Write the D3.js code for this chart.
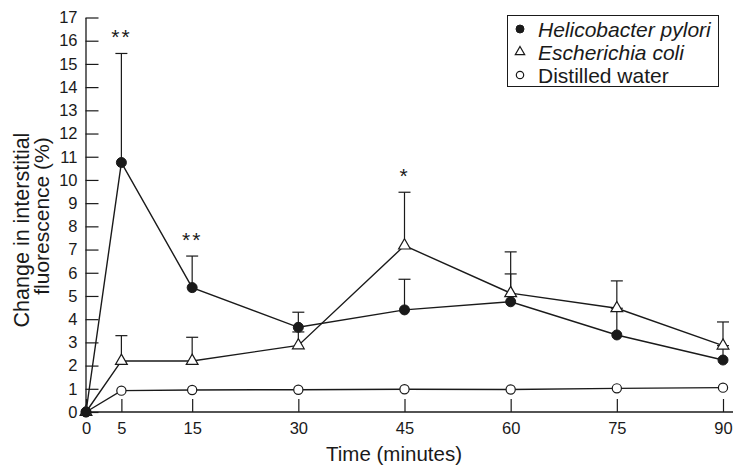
<!DOCTYPE html>
<html>
<head>
<meta charset="utf-8">
<script src="https://cdn.jsdelivr.net/npm/d3@7"></script>
<style>
  body { margin: 0; background: #fff; }
  svg { font-family: "Liberation Sans", Arial, sans-serif; }
</style>
</head>
<body>
<div class="canva"></div>
<script>
// values
const times = [0, 5, 15, 30, 45, 60, 75, 90]
const pylori = [0, 10.75, 5.36, 3.65, 4.4, 4.75, 3.32, 2.24]
const pyloriTop = [0, 15.45, 6.72, 4.3, 5.72, 5.95, 4.47, 2.86]
const coli = [0, 2.2, 2.2, 2.87, 7.17, 5.12, 4.47, 2.86]
const coliTop = [0, 3.29, 3.22, 3.45, 9.47, 6.9, 5.65, 3.88]
const water = [0, 0.92, 0.95, 0.96, 0.98, 0.97, 1.02, 1.05]
const yTicks = d3.range(0, 18)
const stars = [{t: 5, v: 15.45, s: '**'}, {t: 15, v: 6.72, s: '**'}, {t: 45, v: 9.47, s: '*'}]
const legendNames = ['Helicobacter pylori', 'Escherichia coli', 'Distilled water']

const ink = '#1a1a1a'

const svg = d3.select('.canva').append('svg')
              .attr('width', 735)
              .attr('height', 465)

const x = d3.scaleLinear().domain([0, 90]).range([86, 723])
const y = d3.scaleLinear().domain([0, 17]).range([412, 17.5])

// axes
const xAxis = svg.append('g')
    .attr('transform', `translate(0,${y(0)})`)
    .call(d3.axisBottom(x).tickValues(times).tickSizeInner(-13).tickSizeOuter(0).tickPadding(10))
xAxis.select('.domain').remove()
svg.append('line')
   .attr('x1', x(0) - 0.5).attr('x2', 733)
   .attr('y1', y(0)).attr('y2', y(0))
   .attr('stroke', ink).attr('stroke-width', 1.3)

const yAxis = svg.append('g')
    .attr('transform', `translate(${x(0) - 0.5},0)`)
    .call(d3.axisLeft(y).tickValues(yTicks).tickSizeInner(-13).tickSizeOuter(0).tickPadding(8))
yAxis.select('.domain').attr('stroke', ink).attr('stroke-width', 1.3)

svg.selectAll('.tick line').attr('stroke', ink).attr('stroke-width', 1.2)
svg.selectAll('.tick text').attr('fill', ink).style('font-size', '16.5px')
   .style('font-family', '"Liberation Sans", Arial, sans-serif')

svg.append('text')
   .attr('x', 394).attr('y', 461)
   .attr('text-anchor', 'middle')
   .attr('fill', ink)
   .style('font-size', '20.5px')
   .text('Time (minutes)')

svg.append('text')
   .attr('transform', 'translate(29,230) rotate(-90)')
   .attr('text-anchor', 'middle')
   .attr('fill', ink)
   .style('font-size', '21.5px')
   .text('Change in interstitial')
svg.append('text')
   .attr('transform', 'translate(49,216) rotate(-90)')
   .attr('text-anchor', 'middle')
   .attr('fill', ink)
   .style('font-size', '21px')
   .text('fluorescence (%)')

// series
const series = [
  {vals: pylori, top: pyloriTop, kind: 'filled'},
  {vals: coli, top: coliTop, kind: 'triangle'},
  {vals: water, top: null, kind: 'open'}
]

const line = d3.line().x((d, i) => x(times[i])).y(d => y(d))

series.forEach(s => {
  svg.append('path')
     .attr('d', line(s.vals))
     .attr('fill', 'none')
     .attr('stroke', ink)
     .attr('stroke-width', 1.4)
})

series.forEach(s => {
  if (!s.top) return
  const g = svg.append('g').attr('stroke', ink).attr('stroke-width', 1.2)
  s.vals.forEach((v, i) => {
    if (s.top[i] <= v) return
    g.append('line')
     .attr('x1', x(times[i])).attr('x2', x(times[i]))
     .attr('y1', y(v)).attr('y2', y(s.top[i]))
    g.append('line')
     .attr('x1', x(times[i]) - 6).attr('x2', x(times[i]) + 6)
     .attr('y1', y(s.top[i])).attr('y2', y(s.top[i]))
  })
})

function marker(g, kind, cx, cy, scale) {
  if (kind === 'filled') {
    g.append('circle').attr('cx', cx).attr('cy', cy).attr('r', 5 * scale)
     .attr('fill', ink).attr('stroke', ink)
  } else if (kind === 'open') {
    g.append('circle').attr('cx', cx).attr('cy', cy).attr('r', 4.6 * scale)
     .attr('fill', '#fff').attr('stroke', ink).attr('stroke-width', 1.2)
  } else {
    g.append('path').attr('d', d3.symbol().type(d3.symbolTriangle).size(60 * scale * scale)())
     .attr('transform', `translate(${cx},${cy})`)
     .attr('fill', '#fff').attr('stroke', ink).attr('stroke-width', 1.2)
  }
}

const marks = svg.append('g')
;[2, 1, 0].forEach(k => {
  const s = series[k]
  s.vals.forEach((v, i) => marker(marks, s.kind, x(times[i]), y(v), 1))
})

// significance stars
svg.selectAll('.star')
   .data(stars)
   .enter()
   .append('text')
   .attr('class', 'star')
   .attr('x', d => x(d.t))
   .attr('y', d => y(d.v) - 9)
   .attr('text-anchor', 'middle')
   .attr('fill', ink)
   .style('font-size', '21px')
   .style('letter-spacing', '2px')
   .text(d => d.s)

// legend
const legend = svg.append('g')
legend.append('rect')
      .attr('x', 507.5).attr('y', 15.5)
      .attr('width', 211).attr('height', 71)
      .attr('fill', '#fff').attr('stroke', ink).attr('stroke-width', 1)
legendNames.forEach((name, i) => {
  const cy = 29 + i * 23
  marker(legend, series[i].kind, 520, cy, 0.8)
  legend.append('text')
        .attr('x', 538).attr('y', cy + 7.5)
        .attr('fill', ink)
        .style('font-size', '21px')
        .style('font-style', i < 2 ? 'italic' : 'normal')
        .text(name)
})
</script>
</body>
</html>
